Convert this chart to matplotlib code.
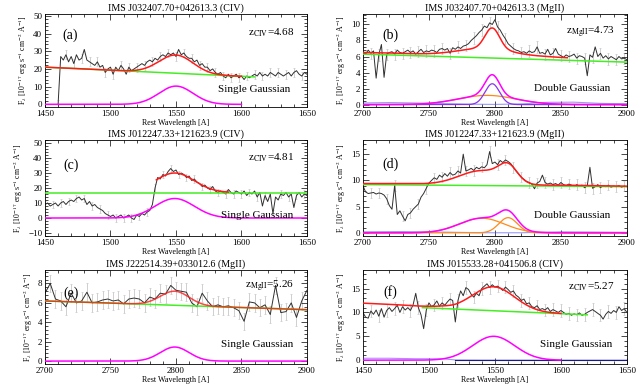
import numpy as np
import matplotlib.pyplot as plt
from matplotlib.ticker import AutoMinorLocator, MultipleLocator

plt.rcParams['font.family'] = ['Liberation Serif', 'DejaVu Serif']
plt.rcParams['mathtext.fontset'] = 'stix'

# ---- observed spectra (rest wavelength start, step in A, flux) ----
w0_a, dw_a = 1460, 2
flux_a = [0, 27, 25, 28, 24, 27, 23, 28, 25, 26, 31, 25, 24, 23, 22, 24, 21, 22, 18, 20,
          21, 17, 21, 19, 22, 20, 17, 21, 19, 20, 21, 22, 23, 22, 24, 25, 24, 26, 25, 27,
          28, 27, 29, 28, 29, 27, 31, 28, 29, 27, 26, 26, 24, 25, 22, 23, 21, 21, 19, 20,
          18, 17, 18, 16, 15, 17, 15, 16, 17, 15, 16, 14, 16, 15, 16, 17, 16, 18, 16, 17,
          16, 18, 17, 16, 18, 17, 16, 17, 18, 16, 18, 19, 17, 16, 18, 17]
err_a = 2.5

w0_b, dw_b = 2700, 2
flux_b = [6.5, 6.3, 6.8, 6.4, 6.7, 3.3, 6.2, 7.5, 3.4, 6.3, 6.5, 6.6, 6.3, 6.8, 6.5, 6.4,
          6.6, 6.8, 6.5, 6.7, 6.3, 6.6, 6.9, 6.5, 6.7, 6.6, 6.8, 6.7, 6.5, 6.9, 7.0, 6.8,
          7.0, 6.4, 7.1, 6.9, 7.2, 7.0, 7.3, 7.4, 7.6, 8.0, 8.3, 8.6, 9.0, 9.3, 9.8, 9.6,
          10.2, 10.0, 10.6, 9.7, 9.3, 8.7, 8.2, 7.6, 7.3, 7.0, 6.8, 6.7, 6.5, 6.6, 6.4, 6.7,
          6.5, 6.6, 7.2, 6.4, 6.5, 6.3, 6.9, 6.2, 6.4, 7.0, 6.3, 6.1, 5.9, 6.2, 6.0, 6.1,
          6.3, 5.8, 6.1, 6.0, 5.8, 3.6, 6.2, 5.9, 7.2, 6.0, 6.4, 5.8, 6.1, 5.7, 6.0, 5.8,
          5.6, 6.0, 5.7, 5.8, 5.6]
err_b = 0.7

w0_c, dw_c = 1450, 2
flux_c = [9, 10, 8, 9, 10, 8, 10, 11, 9, 11, 12, 11, 13, 14, 12, 13, 9, 11, 8, 9,
          7, 6, 5, 3, 2, 1, 2, 0, 1, 2, 0, 1, 2, 0, -1, 2, 1, 3, 2, 4,
          5, 9, 20, 27, 26, 29, 28, 31, 33, 31, 32, 29, 30, 29, 27, 28, 25, 26, 24, 23,
          21, 22, 20, 19, 21, 18, 17, 18, 17, 16, 19, 17, 16, 18, 17, 16, 18, 15, 17, 16,
          18, 14, 17, 8, 15, 11, 16, 3, 14, 12, 16, 15, 17, 14, 16, 7, 15, 17, 14, 16, 15]
err_c = 2.5

w0_d, dw_d = 2700, 2
flux_d = [9.0, 7.8, 7.5, 7.6, 7.7, 7.4, 7.6, 7.5, 7.2, 6.5, 5.2, 4.5, 9.0, 3.5, 4.2, 3.2,
          2.3, 3.5, 3.8, 4.5, 5.0, 5.5, 6.8, 7.5, 8.5, 9.5, 10.0, 10.5, 10.2, 11.0, 10.6, 11.3,
          10.8, 11.5, 11.0, 11.2, 11.8, 11.4, 15.0, 11.8, 12.0, 12.3, 11.9, 12.5, 12.2, 12.6,
          12.4, 13.0, 15.5, 13.2, 13.5, 13.0, 13.8, 13.4, 13.9, 13.6, 13.2, 12.5, 11.8, 11.2,
          10.6, 10.2, 9.8, 9.6, 9.3, 8.4, 9.5, 9.8, 11.0, 9.6, 9.3, 9.5, 9.2, 9.4, 9.1, 9.6,
          9.2, 9.0, 9.3, 9.1, 8.8, 9.2, 8.9, 9.1, 8.6, 9.0, 12.5, 8.5, 8.8, 9.2, 8.6, 9.0,
          8.8, 9.1, 8.7, 8.9, 8.8, 9.0, 8.7, 8.9, 8.8]
err_d = 1.0

w0_e, dw_e = 2700, 4
flux_e = [7.0, 8.0, 6.4, 6.2, 5.6, 7.0, 6.0, 6.2, 7.1, 6.0, 6.1, 6.3, 6.4, 6.2, 6.3, 5.9,
          6.4, 6.5, 6.4, 6.0, 6.6, 6.4, 7.0, 6.9, 7.8, 7.3, 7.2, 7.1, 6.0, 5.6, 7.0, 6.2,
          5.6, 5.8, 5.6, 5.7, 5.5, 5.2, 4.1, 6.1, 6.0, 5.5, 5.8, 4.8, 7.8, 5.0, 5.1, 6.0,
          4.5, 6.2, 7.3]
err_e = 0.9

w0_f, dw_f = 1450, 2
flux_f = [10.0, 9.0, 8.8, 10.3, 9.6, 10.5, 9.2, 10.8, 9.0, 10.4, 11.0, 10.2, 10.8, 11.5,
          10.0, 11.2, 10.5, 11.0, 10.4, 11.6, 14.0, 11.0, 9.5, 6.6, 10.5, 12.0, 11.2, 11.6,
          12.4, 11.3, 12.0, 11.5, 12.2, 12.8, 12.5, 8.0, 12.5, 14.5, 13.5, 15.2, 14.8, 13.8,
          13.2, 14.0, 13.5, 15.0, 15.5, 16.0, 15.2, 15.8, 15.3, 15.5, 15.1, 14.6, 15.3, 14.8,
          14.2, 14.5, 13.6, 13.2, 12.5, 12.8, 11.8, 12.0, 11.2, 11.0, 11.4, 10.6, 10.8, 10.5,
          11.0, 10.2, 10.6, 10.3, 10.0, 10.4, 10.0, 9.6, 9.8, 9.4, 9.7, 9.5, 9.9, 9.4,
          9.6, 10.0, 10.3, 10.6, 10.2, 9.8, 9.4, 8.6, 9.6, 10.2, 9.8, 10.4, 10.0, 11.2,
          10.4, 10.8, 10.0]
err_f = 1.3

# ---- fitted model pieces ----
# continuum: two (wavelength, flux) anchors; gaussians: (amplitude, centre, sigma)
cont_a = [(1450, 21.0), (1610, 15.5)]
gauss_a = [(10.3, 1550, 13)]

cont_b = [(2700, 6.3), (2900, 5.3)]
gauss_b_broad = (1.15, 2794, 22)
gauss_b_narrow = (2.6, 2798, 5.5)
fe_wave_b = [2700, 2720, 2740, 2760, 2780, 2800, 2820, 2840, 2860, 2880, 2900]
fe_flux_b = [0.2, 0.25, 0.2, 0.12, 0.05, 0.02, 0.08, 0.28, 0.3, 0.15, 0.1]

cont_c = [(1450, 17.0), (1650, 17.0)]
gauss_c = [(13.0, 1549, 15)]

cont_d = [(2700, 9.2), (2900, 8.8)]
gauss_d_broad = (2.8, 2790, 17)
gauss_d_narrow = (2.9, 2810, 7)
fe_wave_d = [2700, 2730, 2760, 2790, 2820, 2850, 2880, 2900]
fe_flux_d = [0.2, 0.25, 0.15, 0.02, 0.02, 0.2, 0.15, 0.1]

cont_e = [(2700, 6.2), (2900, 5.3)]
gauss_e = [(1.45, 2799, 11)]

cont_f = [(1495, 11.0), (1620, 9.5)]
gauss_f = [(5.0, 1549, 16)]
fe_wave_f = [1450, 1470, 1490, 1510, 1520, 1540, 1600, 1650]
fe_flux_f = [0.4, 0.4, 0.3, 0.3, 0.05, 0.02, 0.02, 0.02]

titles = ['IMS J032407.70+042613.3 (CIV)', 'IMS J032407.70+042613.3 (MgII)',
          'IMS J012247.33+121623.9 (CIV)', 'IMS J012247.33+121623.9 (MgII)',
          'IMS J222514.39+033012.6 (MgII)', 'IMS J015533.28+041506.8 (CIV)']
panel_tags = ['(a)', '(b)', '(c)', '(d)', '(e)', '(f)']
z_labels = [r'z$_{\rm CIV}$=4.68', r'z$_{\rm MgII}$=4.73', r'z$_{\rm CIV}$=4.81',
            None, r'z$_{\rm MgII}$=5.26', r'z$_{\rm CIV}$=5.27']
fit_labels = ['Single Gaussian', 'Double Gaussian', 'Single Gaussian',
              'Double Gaussian', 'Single Gaussian', 'Single Gaussian']

RED = '#ff1a1a'
GREEN = '#44ee22'
MAGENTA = '#ff00ff'
ORANGE = '#ff8a1a'
PURPLE = '#8833ee'
BLUE = '#5555ff'


def gauss(w, p):
    amp, cen, sig = p
    return amp * np.exp(-0.5 * ((w - cen) / sig) ** 2)


def cont(w, anchors):
    (x0, y0), (x1, y1) = anchors
    return y0 + (y1 - y0) * (w - x0) / (x1 - x0)


def spectrum(ax, w0, dw, flux, err, every=3):
    flux = np.asarray(flux, float)
    wave = w0 + dw * np.arange(len(flux))
    ax.errorbar(wave[::every], flux[::every], yerr=err, fmt='none', ecolor='#c8c8c8',
                elinewidth=0.6, capsize=1.0, capthick=0.5, zorder=1)
    ax.plot(wave, flux, color='#303030', lw=0.7, zorder=2)


def style(ax, xlim, ylim, xmaj, ymaj):
    ax.set_xlim(*xlim)
    ax.set_ylim(*ylim)
    ax.xaxis.set_major_locator(MultipleLocator(xmaj))
    ax.yaxis.set_major_locator(MultipleLocator(ymaj))
    ax.xaxis.set_minor_locator(AutoMinorLocator(5))
    ax.yaxis.set_minor_locator(AutoMinorLocator(5))
    ax.tick_params(which='both', direction='in', top=True, right=True,
                   labelsize=6.5, width=0.5, pad=2)
    ax.tick_params(which='major', length=4)
    ax.tick_params(which='minor', length=2)
    for s in ax.spines.values():
        s.set_linewidth(0.6)
    ax.set_xlabel('Rest Wavelength [A]', fontsize=5.8, labelpad=1)
    ax.set_ylabel(r'F$_\lambda$ [10$^{-17}$ erg s$^{-1}$ cm$^{-2}$ A$^{-1}$]',
                  fontsize=5.6, labelpad=2)


fig = plt.figure(figsize=(6.39, 3.84), dpi=100)
lefts = [0.0704, 0.568]
widths = [0.410, 0.413]
rows = [(0.7214, 0.242), (0.3854, 0.250), (0.0521, 0.245)]
axes = []
for r in range(3):
    for c in range(2):
        axes.append(fig.add_axes([lefts[c], rows[r][0], widths[c], rows[r][1]]))

lw = 1.1

# (a)
ax = axes[0]
spectrum(ax, w0_a, dw_a, flux_a, err_a)
wm = np.linspace(1450, 1610, 400)
ax.plot(wm, cont(wm, cont_a), color=GREEN, lw=lw, zorder=3)
wm = np.linspace(1450, 1600, 400)
ax.plot(wm, cont(wm, cont_a) + gauss(wm, gauss_a[0]), color=RED, lw=lw, zorder=4)
ax.plot(wm, gauss(wm, gauss_a[0]), color=MAGENTA, lw=lw, zorder=4)
style(ax, (1450, 1650), (-1.5, 51), 50, 10)

# (b)
ax = axes[1]
spectrum(ax, w0_b, dw_b, flux_b, err_b)
wm = np.linspace(2700, 2900, 600)
fe = np.interp(wm, fe_wave_b, fe_flux_b)
ax.plot(wm, cont(wm, cont_b), color=GREEN, lw=lw, zorder=3)
sel = wm <= 2855
model = cont(wm, cont_b) + fe + gauss(wm, gauss_b_broad) + gauss(wm, gauss_b_narrow)
ax.plot(wm[sel], model[sel], color=RED, lw=lw, zorder=4)
ax.plot(fe_wave_b, fe_flux_b, color=BLUE, lw=0.8, alpha=0.6, zorder=3)
ax.plot(wm, gauss(wm, gauss_b_broad), color=ORANGE, lw=0.9, zorder=4)
ax.plot(wm, gauss(wm, gauss_b_narrow), color=PURPLE, lw=0.9, zorder=4)
ax.plot(wm, gauss(wm, gauss_b_broad) + gauss(wm, gauss_b_narrow), color=MAGENTA, lw=lw, zorder=5)
style(ax, (2700, 2900), (-0.3, 11.3), 50, 2)

# (c)
ax = axes[2]
spectrum(ax, w0_c, dw_c, flux_c, err_c)
wm = np.linspace(1450, 1650, 400)
ax.plot(wm, cont(wm, cont_c), color=GREEN, lw=lw, zorder=3)
ax.plot(wm, gauss(wm, gauss_c[0]), color=MAGENTA, lw=lw, zorder=4)
wm = np.linspace(1535, 1590, 200)
ax.plot(wm, cont(wm, cont_c) + gauss(wm, gauss_c[0]), color=RED, lw=lw, zorder=4)
style(ax, (1450, 1650), (-12, 52), 50, 10)

# (d)
ax = axes[3]
spectrum(ax, w0_d, dw_d, flux_d, err_d)
wm = np.linspace(2700, 2900, 600)
fe = np.interp(wm, fe_wave_d, fe_flux_d)
ax.plot(wm, cont(wm, cont_d), color=GREEN, lw=lw, zorder=3)
model = cont(wm, cont_d) + fe + gauss(wm, gauss_d_broad) + gauss(wm, gauss_d_narrow)
ax.plot(wm, model, color=RED, lw=lw, zorder=4)
ax.plot(fe_wave_d, fe_flux_d, color=BLUE, lw=0.8, alpha=0.6, zorder=3)
ax.plot(wm, gauss(wm, gauss_d_broad), color=ORANGE, lw=0.9, zorder=4)
ax.plot(wm, gauss(wm, gauss_d_narrow), color=ORANGE, lw=0.9, zorder=4)
ax.plot(wm, gauss(wm, gauss_d_broad) + gauss(wm, gauss_d_narrow), color=MAGENTA, lw=lw, zorder=5)
style(ax, (2700, 2900), (-0.6, 17.7), 50, 5)

# (e)
ax = axes[4]
spectrum(ax, w0_e, dw_e, flux_e, err_e, every=1)
wm = np.linspace(2700, 2900, 600)
ax.plot(wm, cont(wm, cont_e), color=GREEN, lw=lw, zorder=3)
ax.plot(wm, cont(wm, cont_e) + gauss(wm, gauss_e[0]), color=RED, lw=lw, alpha=0.8, zorder=4)
ax.plot(wm, gauss(wm, gauss_e[0]), color=MAGENTA, lw=lw, zorder=4)
style(ax, (2700, 2900), (-0.3, 9.4), 50, 2)

# (f)
ax = axes[5]
spectrum(ax, w0_f, dw_f, flux_f, err_f)
wm = np.linspace(1495, 1620, 300)
ax.plot(wm, cont(wm, cont_f), color=GREEN, lw=lw, zorder=3)
wm = np.linspace(1450, 1600, 400)
fe = np.interp(wm, fe_wave_f, fe_flux_f)
ax.plot(wm, cont(wm, cont_f) + fe + gauss(wm, gauss_f[0]), color=RED, lw=lw, zorder=4)
ax.plot(fe_wave_f, fe_flux_f, color=BLUE, lw=0.8, alpha=0.6, zorder=3)
ax.plot([1520, 1650], [0.02, 0.02], color='#1a1a80', lw=0.8, zorder=3)
ax.plot(wm, gauss(wm, gauss_f[0]), color=MAGENTA, lw=lw, zorder=4)
style(ax, (1450, 1650), (-0.8, 18.9), 50, 5)

# annotations
tag_pos = [(0.065, 0.77), (0.072, 0.77), (0.07, 0.74), (0.075, 0.75), (0.07, 0.755), (0.076, 0.77)]
z_pos = [(0.775, 0.80), (0.77, 0.80), (0.775, 0.81), None, (0.763, 0.82), (0.777, 0.82)]
fit_pos = [(0.66, 0.19), (0.65, 0.20), (0.67, 0.21), (0.65, 0.21), (0.67, 0.21), (0.67, 0.21)]
for i, ax in enumerate(axes):
    ax.set_title(titles[i], fontsize=7.2, pad=2.5)
    ax.text(*tag_pos[i], panel_tags[i], transform=ax.transAxes, fontsize=10,
            va='center', ha='left', zorder=6)
    if z_labels[i]:
        ax.text(*z_pos[i], z_labels[i], transform=ax.transAxes, fontsize=8,
                va='center', ha='left', zorder=6)
    ax.text(*fit_pos[i], fit_labels[i], transform=ax.transAxes, fontsize=8,
            va='center', ha='left', zorder=6)

fig.savefig('out.png', dpi=100)
